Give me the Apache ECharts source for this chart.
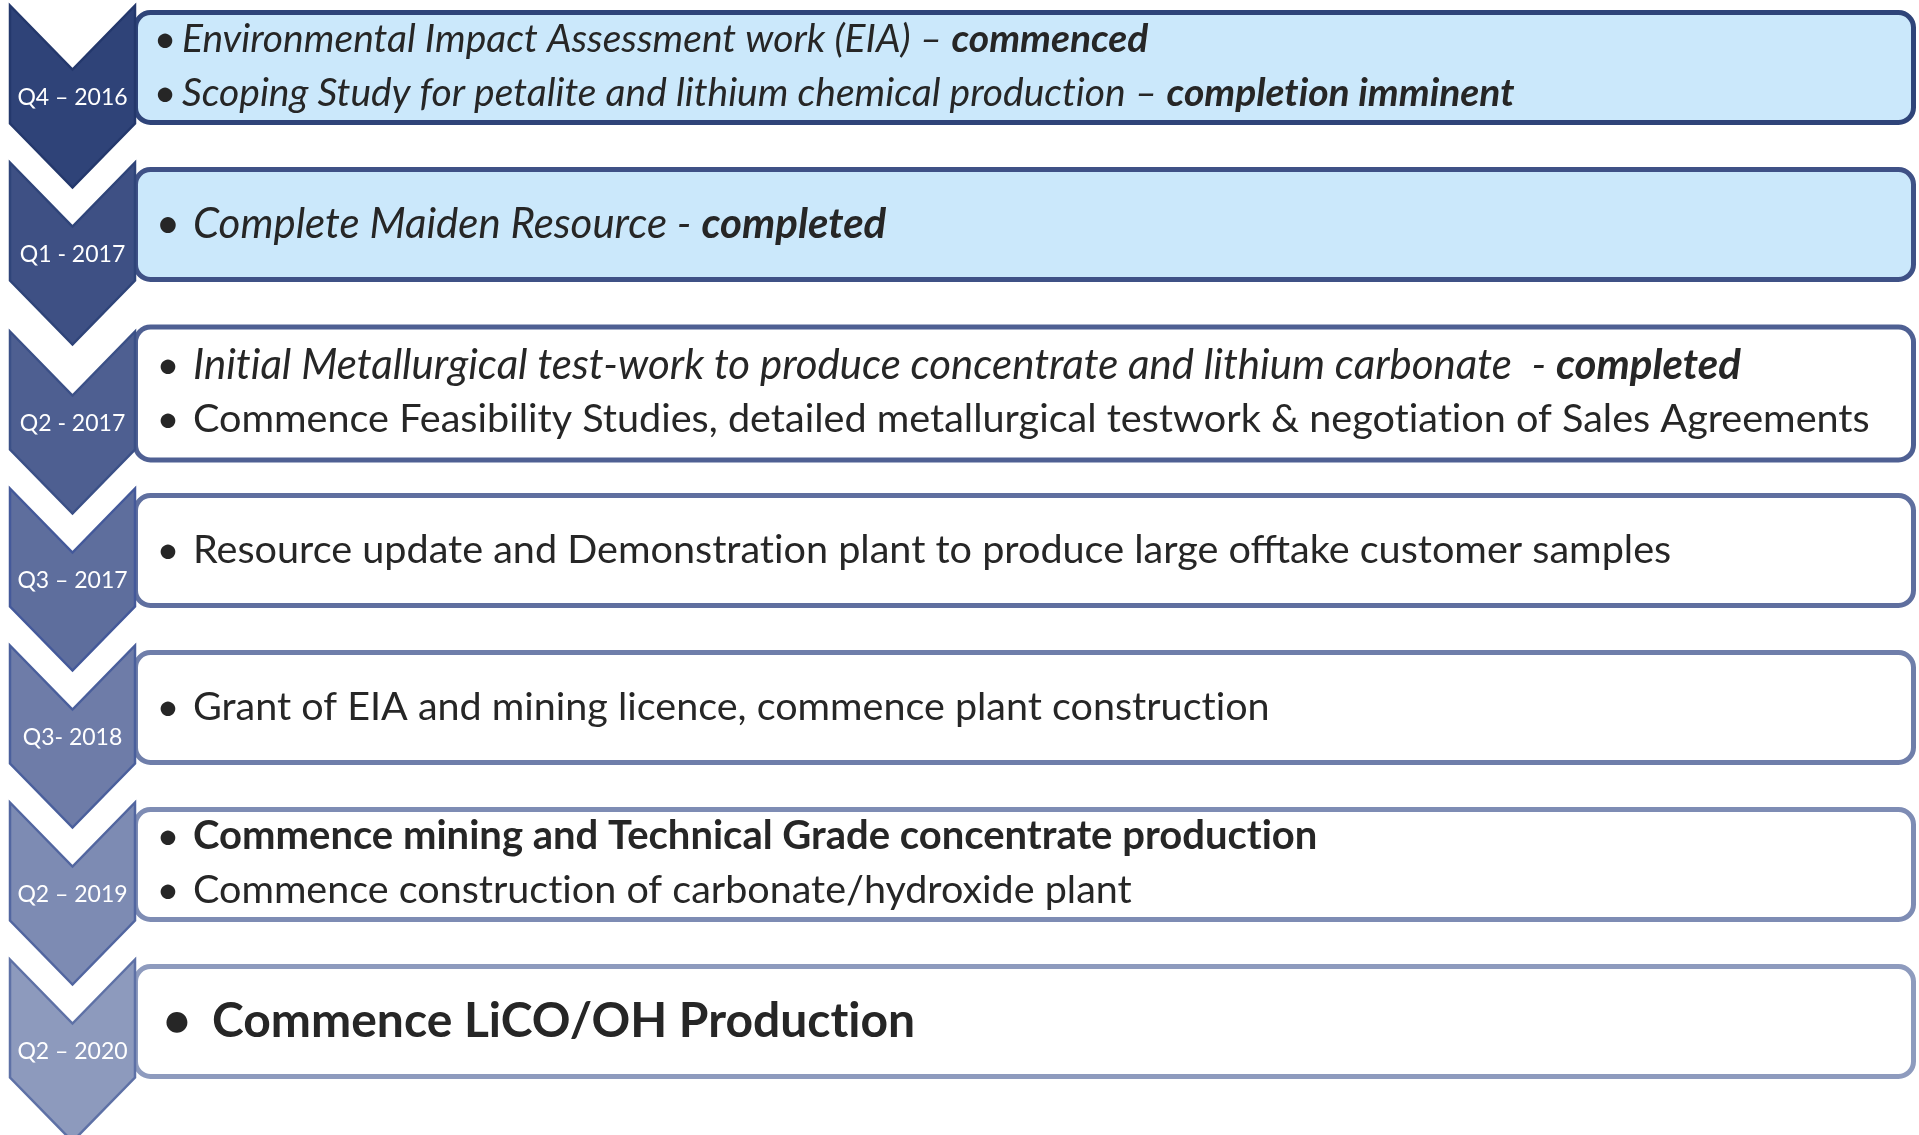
<!DOCTYPE html>
<html>
<head>
<meta charset="utf-8">
<script src="https://cdn.jsdelivr.net/npm/echarts@6/dist/echarts.min.js"></script>
<style>
html,body{margin:0;padding:0;background:#fff;}
#chart{width:1919px;height:1135px;}
</style>
</head>
<body>
<div id="chart"></div>
<script>
// ---- data ----
const quarters = ['Q4 – 2016', 'Q1 - 2017', 'Q2 - 2017', 'Q3 – 2017', 'Q3- 2018', 'Q2 – 2019', 'Q2 – 2020'];
const milestoneLines = [
  ['{i|Environmental Impact Assessment work (EIA) – }{bi|commenced}',
   '{i|Scoping Study for petalite and lithium chemical production – }{bi|completion imminent}'],
  ['{i|Complete Maiden Resource - }{bi|completed}'],
  ['{i|Initial Metallurgical test-work to produce concentrate and lithium carbonate  - }{bi|completed}',
   '{r|Commence Feasibility Studies, detailed metallurgical testwork & negotiation of Sales Agreements}'],
  ['{r|Resource update and Demonstration plant to produce large offtake customer samples}'],
  ['{r|Grant of EIA and mining licence, commence plant construction}'],
  ['{b|Commence mining and Technical Grade concentrate production}',
   '{r|Commence construction of carbonate/hydroxide plant}'],
  ['{b|Commence LiCO/OH Production}']
];
const completed = [true, true, false, false, false, false, false];

// ---- styles ----
const chevronFill = ['#2f4378', '#3e5084', '#4e5f91', '#5e6e9d', '#6e7ca8', '#7d8bb3', '#8d9abd'];
const chevronStroke = ['#24386c', '#2f4479', '#3b5087', '#44599a', '#4a5f9c', '#5266a0', '#5e71a6'];
const boxStroke = ['#2f4479', '#3f5186', '#4f6093', '#5f6f9f', '#6f7eaa', '#7e8cb4', '#8e9bbe'];
const lightFill = '#cbe8fb';
const txtColor = '#262626';
const FONT = 'Lato, "Open Sans", sans-serif';
const rowFont = [39, 42, 39.6, 39.6, 39.5, 39.5, 48];   // regular text size per row
const rowBold = [39, 42, 40, 40, 40, 40, 48];           // bold text size per row
const rowItalic = [39, 42, 42, 40, 40, 40, 48];         // italic text size per row

// break the Lato "ti" ligature (render-time only)
function noLig(s) { return s.replace(/ti/g, 't\u200Ci'); }

function richFor(i) {
  return {
    i:  {fontStyle: 'italic', fontWeight: 'normal', fontSize: rowItalic[i], fontFamily: FONT, fill: txtColor},
    bi: {fontStyle: 'italic', fontWeight: 'bold', fontSize: rowItalic[i], fontFamily: FONT, fill: txtColor},
    r:  {fontStyle: 'normal', fontWeight: 'normal', fontSize: rowFont[i], fontFamily: FONT, fill: txtColor},
    b:  {fontStyle: 'normal', fontWeight: 'bold', fontSize: rowBold[i], fontFamily: FONT, fill: txtColor}
  };
}

function renderItem(params, api) {
  const i = api.value(1);
  const cs = params.coordSys;
  const x0 = cs.x;
  const pt = api.coord([0, i]);
  const cy = pt[1] + (i >= 2 ? 12 : 0);
  const h = i === 2 ? 138 : 115;
  const children = [];
  // box
  children.push({
    type: 'rect',
    shape: {x: x0 + 135.5, y: cy - h / 2 + 2.5, width: 1778, height: h - 5, r: 15},
    style: {fill: completed[i] ? lightFill : '#ffffff', stroke: boxStroke[i], lineWidth: 5}
  });
  // chevron
  const top = cy - 62, bot = cy + 56, L = x0 + 10, R = x0 + 135, M = x0 + 72.5, d = 64;
  children.push({
    type: 'polygon',
    shape: {points: [[L, top], [M, top + d], [R, top], [R, bot], [M, bot + d], [L, bot]]},
    style: {fill: chevronFill[i], stroke: chevronStroke[i], lineWidth: 2.5, lineJoin: 'miter'}
  });
  children.push({
    type: 'text',
    style: {text: quarters[i], x: M, y: cy + 30, align: 'center', verticalAlign: 'middle',
            fill: '#ffffff', font: '23px ' + FONT}
  });
  // text lines
  const lines = milestoneLines[i];
  const ys = lines.length === 1 ? [cy] : [cy - 28, cy + 26];
  const bx = i === 0 ? 165 : (i === 6 ? 177 : 168);
  const tx = i === 0 ? 182 : (i === 6 ? 212 : 193);
  const fs = rowFont[i];
  lines.forEach(function (ln, k) {
    children.push({
      type: 'text',
      style: {text: '•', x: x0 + bx, y: ys[k], align: 'center', verticalAlign: 'middle',
              fill: txtColor, font: (i === 6 ? 'bold ' : '') + fs + 'px ' + FONT}
    });
    children.push({
      type: 'text',
      style: {text: noLig(ln), x: x0 + tx, y: ys[k], align: 'left', verticalAlign: 'middle',
              rich: richFor(i), fill: txtColor, font: fs + 'px ' + FONT}
    });
  });
  return {type: 'group', children: children};
}

const chart = echarts.init(document.getElementById('chart'), null, {renderer: 'canvas'});
chart.setOption({
  backgroundColor: '#ffffff',
  animation: false,
  grid: {left: 0, right: 0, top: 67.5, bottom: 125.5},
  xAxis: {type: 'value', min: 0, max: 1, show: false},
  yAxis: {type: 'category', data: quarters, inverse: true, boundaryGap: false, show: false},
  series: [{
    type: 'custom',
    clip: false,
    renderItem: renderItem,
    data: quarters.map(function (q, i) { return [0, i]; })
  }]
});
</script>
</body>
</html>
